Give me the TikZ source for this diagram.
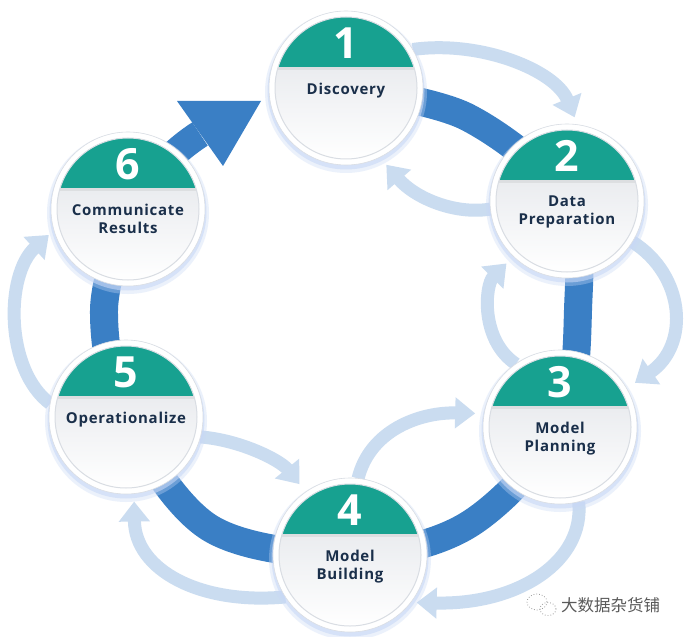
\documentclass[tikz,border=0pt]{standalone}
\usepackage{fontspec}
\setmainfont{Open Sans}
\newfontfamily\cjk{Noto Sans CJK SC}
\usetikzlibrary{arrows.meta}
\pgfdeclarelayer{bg}
\pgfsetlayers{bg,main}
\definecolor{bandc}{HTML}{3A7FC5}
\definecolor{tealc}{HTML}{17A190}
\definecolor{lightc}{HTML}{CADCF0}
\definecolor{navyc}{HTML}{1A2F4A}
\definecolor{rimc}{HTML}{D9DDE3}
\definecolor{glowc}{HTML}{C8D8F6}
\definecolor{disktop}{HTML}{DFE2E7}
\definecolor{wmc}{HTML}{5A5A5A}
\tikzset{
  stagec/.style={circle, minimum size=154pt, inner sep=0pt, outer sep=0pt},
  ringband/.style={draw=bandc, line width=28pt},
  lightarc/.style={draw=lightc, line width=13pt, -{Triangle[width=30pt,length=20pt]}},
  numtext/.style={font=\bfseries\fontsize{43}{43}\selectfont, text=white, inner sep=0pt},
  labtext/.style={font=\bfseries\fontsize{15}{18}\selectfont\addfontfeature{LetterSpace=5}, text=navyc, align=center, inner sep=0pt, anchor=north},
}
\newcommand\drawstage[3]{%
  \fill[glowc, opacity=0.35] ([yshift=-4pt]#1.center) circle (81pt);
  \fill[glowc, opacity=0.6] ([yshift=-3pt]#1.center) circle (78.5pt);
  \fill[white] (#1.center) circle (77pt);
  \draw[rimc, line width=0.6pt] (#1.center) circle (77pt);
  \shade[top color=disktop, bottom color=white] (#1.center) circle (71pt);
  \begin{scope}
    \clip (#1.center) circle (71pt);
    \fill[tealc] ([shift={(-80pt,21pt)}]#1.center) rectangle ([shift={(80pt,80pt)}]#1.center);
    \fill[black, opacity=0.06] ([shift={(-80pt,21pt)}]#1.center) rectangle ([shift={(80pt,18pt)}]#1.center);
  \end{scope}
  \draw[rimc, line width=1pt] (#1.center) circle (71pt);
  \node[numtext] (#1num) at ([yshift=45pt]#1.center) {#2};
  \node[labtext] (#1lab) at ([yshift=5pt]#1.center) {#3};
}
\begin{document}
\begin{tikzpicture}[x=1pt,y=-1pt]
\useasboundingbox (0,0) rectangle (684,636);
\node[stagec] (n1) at (346,88) {};
\node[stagec] (n2) at (567,201) {};
\node[stagec] (n3) at (560,427) {};
\node[stagec] (n4) at (350,555) {};
\node[stagec] (n5) at (126,417) {};
\node[stagec] (n6) at (128,209) {};
\coordinate (hb) at (200,134);
\begin{pgfonlayer}{bg}
  \fill[white] (0,0) rectangle (684,636);
  % thick ring
  \draw[ringband] plot[smooth, tension=0.55] coordinates {(n1.center) (467,117) (n2.center) (578,310) (n3.center) (468,525) (n4.center) (210,528) (n5.center) (104,310) (n6.center)};
  \draw[ringband] (n6.center) .. controls (150,175) and (175,150) .. (hb);
  \fill[bandc] (177,101) -- (261,101) -- (223,166) -- cycle;
  % light arrows
  \draw[lightarc, shorten >=8pt] (n1.30) .. controls (480,40) and (555,70) .. (n2.82);
  \draw[lightarc, shorten >=10pt] (n2.186) .. controls (455,215) and (415,198) .. (n1.296);
  \draw[lightarc, shorten >=10pt] (n2.328) .. controls (685,275) and (690,345) .. (n3.30);
  \draw[lightarc, shorten >=10pt] (n3.125) .. controls (480,340) and (485,285) .. (n2.226);
  \draw[lightarc, shorten >=6pt] (n3.284) .. controls (585,560) and (520,605) .. (n4.322);
  \draw[lightarc, shorten >=9pt] (n4.84) .. controls (370,430) and (420,412) .. (n3.170);
  \draw[lightarc, shorten >=10pt] (n5.345) .. controls (240,440) and (280,460) .. (n4.125);
  \draw[lightarc, shorten >=8pt] (n4.213) .. controls (200,605) and (135,570) .. (n5.276);
  \draw[lightarc, shorten >=7pt] (n5.170) .. controls (5,370) and (5,275) .. (n6.196);
\end{pgfonlayer}
\drawstage{n1}{1}{Discovery}
\drawstage{n2}{2}{Data\\Preparation}
\drawstage{n3}{3}{Model\\Planning}
\drawstage{n4}{4}{Model\\Building}
\drawstage{n5}{5}{Operationalize}
\drawstage{n6}{6}{Communicate\\Results}
% watermark
\draw[wmc!60, dotted, line width=0.8pt] (537,602) ellipse (10pt and 8pt);
\draw[wmc!60, dotted, line width=0.8pt] (548,609) ellipse (8pt and 6.5pt);
\node[font=\cjk\fontsize{16.5}{16.5}\selectfont, text=wmc, anchor=west, inner sep=0pt] (wm) at (561,605) {大数据杂货铺};
\end{tikzpicture}
\end{document}
